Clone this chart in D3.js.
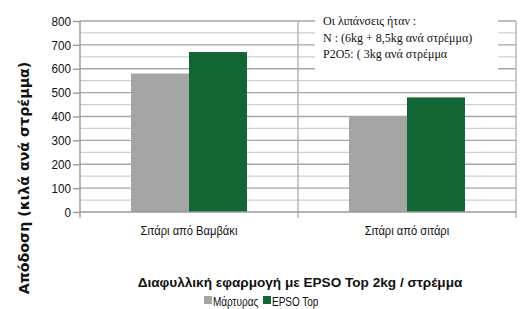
<!DOCTYPE html>
<html>
<head>
<meta charset="utf-8">
<script src="https://cdn.jsdelivr.net/npm/d3@7"></script>
<style>
  body { margin: 0; background: #fff; }
  svg { display: block; }
</style>
</head>
<body>
<svg id="chart" width="527" height="309"></svg>
<script>
const categories = ["Σιτάρι από Βαμβάκι", "Σιτάρι από σιτάρι"];
const seriesNames = ["Μάρτυρας", "EPSO Top"];
const martyrasValues = [580, 400];
const epsoValues = [670, 480];
const yTicks = [0, 100, 200, 300, 400, 500, 600, 700, 800];
const noteLines = [
  "Οι λιπάνσεις ήταν :",
  "N  : (6kg + 8,5kg ανά στρέμμα)",
  "P2O5: ( 3kg ανά στρέμμα"
];

const colors = ["#a5a5a5", "#116633"];
const sansFont = "'Liberation Sans', Arial, sans-serif";

const svg = d3.select("#chart");
const margin = { left: 80, right: 11, top: 21, bottom: 97 };
const width = 527 - margin.left - margin.right;
const height = 309 - margin.top - margin.bottom;

const x0 = d3.scaleBand().domain(categories).range([0, width]).padding(0);
const x1 = d3.scaleBand().domain(seriesNames)
  .range([0, x0.bandwidth()]).paddingInner(0).paddingOuter(0.88);
const y = d3.scaleLinear().domain([0, 800]).range([height, 0]);

const g = svg.append("g").attr("transform", `translate(${margin.left},${margin.top})`);

// narrow-looking sans text: squeeze horizontally around the anchor point
function narrowText(sel, sx) {
  sel.attr("transform", function () {
    const ax = +d3.select(this).attr("x") || 0;
    return `translate(${ax},0) scale(${sx},1) translate(${-ax},0)`;
  });
}

// minor gridlines (every 50)
const minor = d3.range(50, 800, 100);
g.selectAll(".minor").data(minor).join("line")
  .attr("class", "minor")
  .attr("x1", 0).attr("x2", width)
  .attr("y1", d => y(d)).attr("y2", d => y(d))
  .attr("stroke", "#cfcfcf").attr("stroke-width", 1.2);

// major gridlines
g.selectAll(".major").data(yTicks.slice(1)).join("line")
  .attr("class", "major")
  .attr("x1", 0).attr("x2", width)
  .attr("y1", d => y(d)).attr("y2", d => y(d))
  .attr("stroke", "#a6a6a6").attr("stroke-width", 1.4);

// vertical separators between categories
const seps = [x0(categories[1]), width];
g.selectAll(".sep").data(seps).join("line")
  .attr("class", "sep")
  .attr("x1", d => d).attr("x2", d => d)
  .attr("y1", 0).attr("y2", height + 6)
  .attr("stroke", "#b3b3b3").attr("stroke-width", 1.4);

// bars
const rows = categories.map((c, i) => ({ cat: c, vals: [martyrasValues[i], epsoValues[i]] }));
const grp = g.selectAll(".grp").data(rows).join("g")
  .attr("class", "grp")
  .attr("transform", d => `translate(${x0(d.cat)},0)`);
grp.selectAll("rect").data(d => d.vals.map((v, j) => ({ name: seriesNames[j], v, j })))
  .join("rect")
  .attr("x", d => x1(d.name))
  .attr("width", x1.bandwidth())
  .attr("y", d => y(d.v))
  .attr("height", d => y(0) - y(d.v))
  .attr("fill", d => colors[d.j]);

// y axis
const yAxis = g.append("g")
  .call(d3.axisLeft(y).tickValues(yTicks).tickSize(7).tickPadding(2));
yAxis.select(".domain").attr("stroke", "#9a9a9a").attr("stroke-width", 1.4)
  .attr("d", `M0,${height + 6}V0`);
yAxis.selectAll(".tick line").attr("stroke", "#9a9a9a").attr("stroke-width", 1.4);
yAxis.selectAll(".tick text")
  .attr("font-family", sansFont).attr("font-size", 13).attr("fill", "#111")
  .call(narrowText, 0.9);

// x axis baseline
g.append("line")
  .attr("x1", 0).attr("x2", width)
  .attr("y1", y(0)).attr("y2", y(0))
  .attr("stroke", "#9a9a9a").attr("stroke-width", 1.4);

// category labels
g.selectAll(".cat").data(categories).join("text")
  .attr("class", "cat")
  .attr("x", d => x0(d) + x0.bandwidth() / 2)
  .attr("y", height + 23)
  .attr("text-anchor", "middle")
  .attr("font-family", sansFont).attr("font-size", 13).attr("fill", "#111")
  .text(d => d)
  .call(narrowText, 0.86);

// note box
const note = svg.append("g");
note.append("rect")
  .attr("x", 315).attr("y", 0).attr("width", 183).attr("height", 72)
  .attr("fill", "#fff");
note.selectAll("text").data(noteLines).join("text")
  .attr("x", 323)
  .attr("y", (d, i) => 25 + i * 16.5)
  .attr("font-family", "'Liberation Serif', 'Times New Roman', serif")
  .attr("font-size", 12).attr("fill", "#111")
  .text(d => d);

// y title
svg.append("text")
  .attr("transform", "translate(29,178) rotate(-90)")
  .attr("text-anchor", "middle")
  .attr("font-family", "'DejaVu Sans', Verdana, sans-serif")
  .attr("font-weight", "bold").attr("font-size", 14.2).attr("fill", "#111")
  .text("Απόδοση (κιλά ανά στρέμμα)");

// bottom title
svg.append("text")
  .attr("x", 300).attr("y", 287)
  .attr("text-anchor", "middle")
  .attr("font-family", sansFont)
  .attr("font-weight", "bold").attr("font-size", 13.6).attr("fill", "#111")
  .text("Διαφυλλική εφαρμογή με EPSO Top 2kg / στρέμμα");

// legend
const legendX = [204, 263];
const leg = svg.selectAll(".leg").data(seriesNames).join("g")
  .attr("class", "leg")
  .attr("transform", (d, i) => `translate(${legendX[i]},296)`);
leg.append("rect").attr("width", 8).attr("height", 8).attr("fill", (d, i) => colors[i]);
leg.append("text").attr("x", 9).attr("y", 9.5)
  .attr("font-family", sansFont).attr("font-size", 12.5).attr("fill", "#111")
  .text(d => d)
  .call(narrowText, 0.8);
</script>
</body>
</html>
